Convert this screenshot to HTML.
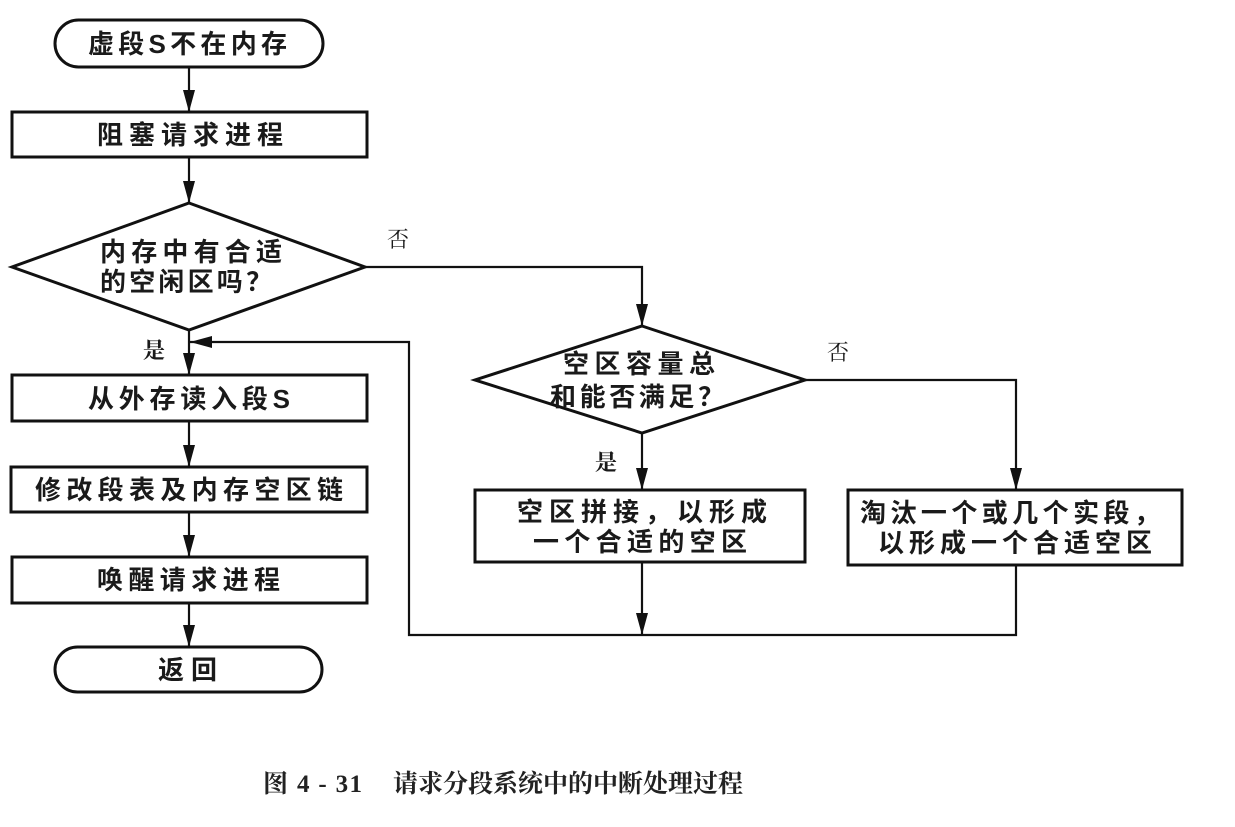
<!DOCTYPE html>
<html>
<head>
<meta charset="utf-8">
<style>
html,body{margin:0;padding:0;background:#fff;}
svg{display:block;}
.b{font-family:"Liberation Sans","Noto Sans CJK SC",sans-serif;font-size:26px;font-weight:bold;fill:#1a1a1a;}
.l{font-family:"Liberation Serif","Noto Serif CJK SC",serif;font-size:22px;fill:#1a1a1a;}
.lb{font-family:"Liberation Serif","Noto Serif CJK SC",serif;font-size:22px;font-weight:bold;fill:#1a1a1a;}
.c{font-family:"Liberation Serif","Noto Serif CJK SC",serif;font-size:25px;font-weight:bold;fill:#222;}
</style>
</head>
<body>
<svg width="1235" height="827" viewBox="0 0 1235 827" xmlns="http://www.w3.org/2000/svg">
<defs>
<marker id="ah" markerWidth="22" markerHeight="12" refX="22" refY="6" orient="auto" markerUnits="userSpaceOnUse">
<path d="M0,0 L22,6 L0,12 Z" fill="#111"/>
</marker>
</defs>
<g fill="none" stroke="#111" stroke-width="3">
<rect x="55" y="20" width="268" height="47" rx="23.5" ry="23.5"/>
<rect x="12" y="112" width="355" height="45"/>
<polygon points="189,203 365,267 189,330 12,267"/>
<rect x="12" y="375" width="355" height="46"/>
<rect x="11" y="467" width="356" height="45"/>
<rect x="12" y="557" width="355" height="46"/>
<rect x="55" y="647" width="267" height="45" rx="22.5" ry="22.5"/>
<polygon points="642,326 805,380 642,433 475,380"/>
<rect x="475" y="490" width="330" height="72"/>
<rect x="848" y="490" width="334" height="75"/>
</g>
<g fill="none" stroke="#111" stroke-width="2.2">
<line x1="189" y1="67" x2="189" y2="112" marker-end="url(#ah)"/>
<line x1="189" y1="157" x2="189" y2="203" marker-end="url(#ah)"/>
<line x1="189" y1="330" x2="189" y2="375" marker-end="url(#ah)"/>
<line x1="189" y1="421" x2="189" y2="467" marker-end="url(#ah)"/>
<line x1="189" y1="512" x2="189" y2="557" marker-end="url(#ah)"/>
<line x1="189" y1="603" x2="189" y2="647" marker-end="url(#ah)"/>
<polyline points="365,267 642,267 642,326" marker-end="url(#ah)"/>
<line x1="642" y1="433" x2="642" y2="490" marker-end="url(#ah)"/>
<polyline points="805,380 1016,380 1016,490" marker-end="url(#ah)"/>
<line x1="642" y1="562" x2="642" y2="635" marker-end="url(#ah)"/>
<polyline points="1016,565 1016,635 409,635 409,342 190,342" marker-end="url(#ah)"/>
</g>
<text class="b" x="88" y="53" textLength="199" lengthAdjust="spacing">虚段S不在内存</text>
<text class="b" x="97" y="144" textLength="186" lengthAdjust="spacing">阻塞请求进程</text>
<text class="b" x="100" y="261" textLength="182" lengthAdjust="spacing">内存中有合适</text>
<text class="b" x="100" y="291" textLength="172" lengthAdjust="spacing">的空闲区吗？</text>
<text class="l" x="387" y="247">否</text>
<text class="lb" x="143" y="358">是</text>
<text class="b" x="88" y="408" textLength="202" lengthAdjust="spacing">从外存读入段S</text>
<text class="b" x="35" y="499" textLength="308" lengthAdjust="spacing">修改段表及内存空区链</text>
<text class="b" x="97" y="589" textLength="183" lengthAdjust="spacing">唤醒请求进程</text>
<text class="b" x="158" y="679" textLength="59" lengthAdjust="spacing">返回</text>
<text class="b" x="563" y="373" textLength="152" lengthAdjust="spacing">空区容量总</text>
<text class="b" x="550" y="406" textLength="174" lengthAdjust="spacing">和能否满足？</text>
<text class="l" x="827" y="360">否</text>
<text class="lb" x="595" y="470">是</text>
<text class="b" x="517" y="521" textLength="250" lengthAdjust="spacing">空区拼接，以形成</text>
<text class="b" x="533" y="551" textLength="214" lengthAdjust="spacing">一个合适的空区</text>
<text class="b" x="860" y="522" textLength="300" lengthAdjust="spacing">淘汰一个或几个实段，</text>
<text class="b" x="878" y="552" textLength="274" lengthAdjust="spacing">以形成一个合适空区</text>
<text class="c" x="263" y="792" textLength="99" lengthAdjust="spacing">图 4 - 31</text>
<text class="c" x="393" y="792" textLength="350" lengthAdjust="spacing">请求分段系统中的中断处理过程</text>
</svg>
</body>
</html>
